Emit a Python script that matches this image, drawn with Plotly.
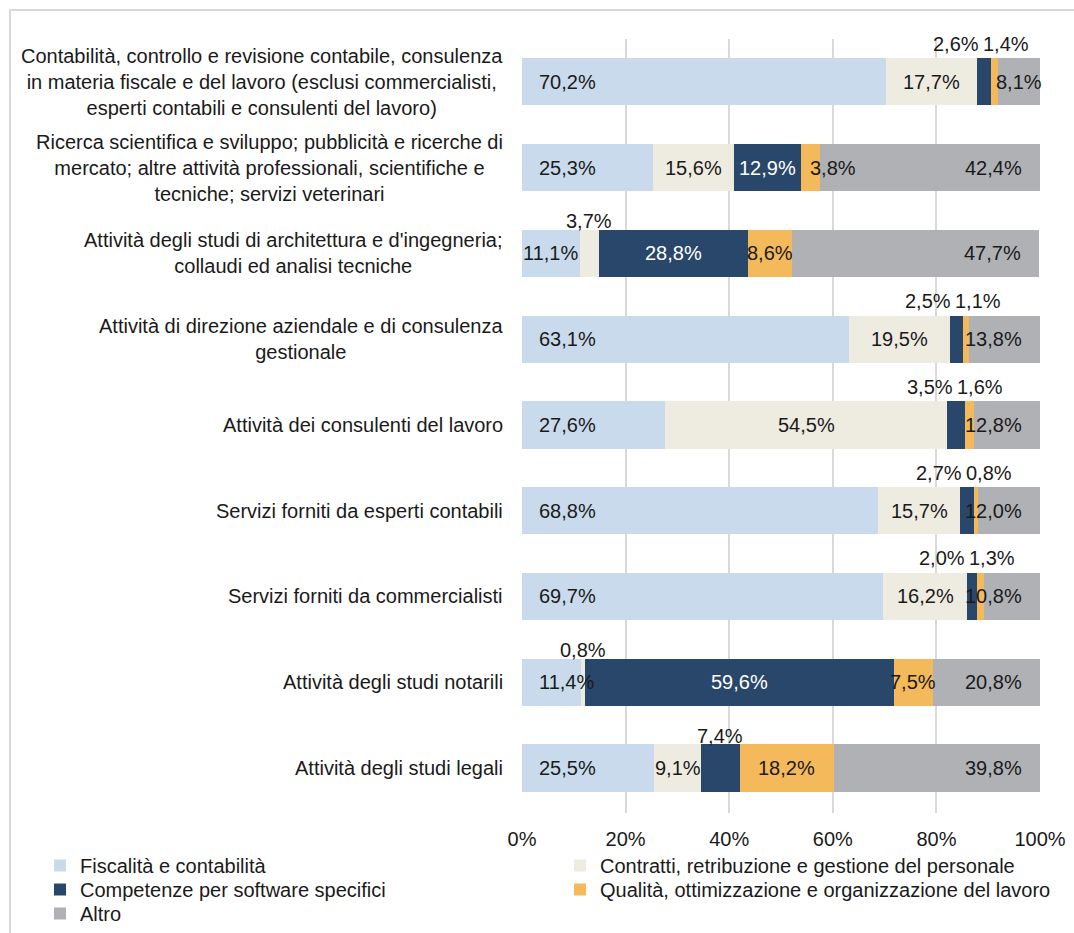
import plotly.graph_objects as go

# Categories, top to bottom
categories = [
    "Contabilità, controllo e revisione contabile, consulenza<br>in materia fiscale e del lavoro (esclusi commercialisti,<br>esperti contabili e consulenti del lavoro)",
    "Ricerca scientifica e sviluppo; pubblicità e ricerche di<br>mercato; altre attività professionali, scientifiche e<br>tecniche; servizi veterinari",
    "Attività degli studi di architettura e d'ingegneria;<br>collaudi ed analisi tecniche",
    "Attività di direzione aziendale e di consulenza<br>gestionale",
    "Attività dei consulenti del lavoro",
    "Servizi forniti da esperti contabili",
    "Servizi forniti da commercialisti",
    "Attività degli studi notarili",
    "Attività degli studi legali",
]

series_names = [
    "Fiscalità e contabilità",
    "Contratti, retribuzione e gestione del personale",
    "Competenze per software specifici",
    "Qualità, ottimizzazione e organizzazione del lavoro",
    "Altro",
]

fiscalita = [70.2, 25.3, 11.1, 63.1, 27.6, 68.8, 69.7, 11.4, 25.5]
contratti = [17.7, 15.6, 3.7, 19.5, 54.5, 15.7, 16.2, 0.8, 9.1]
software = [2.6, 12.9, 28.8, 2.5, 3.5, 2.7, 2.0, 59.6, 7.4]
qualita = [1.4, 3.8, 8.6, 1.1, 1.6, 0.8, 1.3, 7.5, 18.2]
altro = [8.1, 42.4, 47.7, 13.8, 12.8, 12.0, 10.8, 20.8, 39.8]

x_ticks = [0, 20, 40, 60, 80, 100]
x_tick_labels = ["0%", "20%", "40%", "60%", "80%", "100%"]

series_values = [fiscalita, contratti, software, qualita, altro]
colors = ["#c9daec", "#eeebe1", "#29476b", "#f3b95a", "#b0b1b5"]
# legend rows: two entries per row, left column then right column
legend_ids = ["legend", "legend", "legend2", "legend2", "legend3"]

FONT = "Liberation Sans, Arial, sans-serif"
TEXT = "#1a1a1a"

# figure geometry (pixels)
W, H = 1074, 933
L, R, T, B = 522, 34, 39, 120
PW = W - L - R
PH = H - T - B


def px_to_paper_x(px):
    return (px - L) / PW


def px_to_paper_y(py):
    return (H - B - py) / PH


def fmt(v):
    return f"{v:.1f}".replace(".", ",") + "%"


fig = go.Figure()
for name, vals, col, lg in zip(series_names, series_values, colors, legend_ids):
    fig.add_trace(go.Bar(
        y=categories, x=vals, orientation="h", name=name,
        marker=dict(color=col, line=dict(width=0)),
        legend=lg, legendwidth=475,
    ))

# label placement rules
above_pair_rows = {0, 3, 4, 5, 6}          # software + quality labels side by side above bar
above_single = {(1, 2), (1, 7), (2, 8)}     # single label centred above its segment
first_centered = {2}                        # first-series labels centred in segment
last_centered = {0}                         # last-series labels centred in segment
x_nudge = {(3, 1): 22}

annotations = []
for r, cat in enumerate(categories):
    cum = 0.0
    for s, vals in enumerate(series_values):
        v = vals[r]
        start, end = cum, cum + v
        cum = end
        a = dict(x=(start + end) / 2, y=cat, xref="x", yref="y", text=fmt(v),
                 showarrow=False, xanchor="center", yanchor="middle",
                 font=dict(family=FONT, size=20, color=TEXT))
        if s == 0 and r not in first_centered:
            a.update(x=0, xanchor="left", xshift=15)
        elif s == 4 and r not in last_centered:
            a.update(x=min(end, 100), xanchor="right", xshift=-16)
        elif s in (2, 3) and r in above_pair_rows:
            if s == 2:
                a.update(x=end, xanchor="right", xshift=-10, yshift=38)
            else:
                a.update(x=start, xanchor="left", xshift=-10, yshift=38)
        elif (s, r) in above_single:
            a.update(yshift=32)
        else:
            if s == 2:
                a["font"] = dict(family=FONT, size=20, color="white")
        if (s, r) in x_nudge:
            a["xshift"] = a.get("xshift", 0) + x_nudge[(s, r)]
        annotations.append(a)

# category labels, centred lines, right-aligned block
for cat in categories:
    annotations.append(dict(
        x=0, xref="paper", y=cat, yref="y", text=cat, showarrow=False,
        xanchor="right", yanchor="middle", align="center", xshift=-17,
        font=dict(family=FONT, size=20, color=TEXT),
    ))


def legend_row(top_px):
    return dict(orientation="h", x=px_to_paper_x(40), xanchor="left",
                y=px_to_paper_y(top_px), yanchor="top", traceorder="normal",
                font=dict(family=FONT, size=20, color=TEXT),
                bgcolor="rgba(0,0,0,0)")


fig.update_layout(
    width=W, height=H,
    barmode="stack", bargap=0.45,
    margin=dict(l=L, r=R, t=T, b=B, autoexpand=False),
    paper_bgcolor="white", plot_bgcolor="white",
    font=dict(family=FONT, size=20, color=TEXT),
    xaxis=dict(range=[0, 100], tickvals=x_ticks, ticktext=x_tick_labels,
               showgrid=True, gridcolor="#d9d9d9", gridwidth=2, zeroline=False,
               showline=False, ticks="", tickfont=dict(size=20, color=TEXT),
               ticklabelstandoff=12, fixedrange=True),
    yaxis=dict(autorange="reversed", showticklabels=False, showgrid=False,
               zeroline=False, showline=False, ticks="", fixedrange=True),
    legend=legend_row(846),
    legend2=legend_row(870),
    legend3=legend_row(894),
    annotations=annotations,
    shapes=[dict(type="rect", xref="paper", yref="paper",
                 x0=px_to_paper_x(10), x1=px_to_paper_x(1100),
                 y0=px_to_paper_y(960), y1=px_to_paper_y(10),
                 line=dict(color="#d9d9d9", width=2), layer="below")],
    showlegend=True,
)

fig.write_html("out.html")
